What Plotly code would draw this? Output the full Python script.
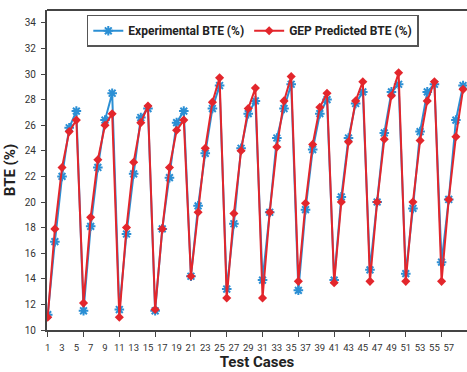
import plotly.graph_objects as go

cases = list(range(1, 60))
experimental = [11.2, 16.9, 22.0, 25.8, 27.1, 11.5, 18.1, 22.7, 26.4, 28.5,
                11.6, 17.5, 22.2, 26.6, 27.3, 11.5, 17.9, 21.9, 26.2, 27.1,
                14.2, 19.7, 23.8, 27.3, 29.1, 13.2, 18.3, 24.2, 26.9, 27.9,
                13.9, 19.2, 25.0, 27.3, 29.2, 13.1, 19.4, 24.1, 26.9, 28.0,
                13.9, 20.4, 25.0, 27.7, 28.6, 14.7, 20.0, 25.4, 28.6, 29.2,
                14.4, 19.5, 25.5, 28.6, 29.2, 15.3, 20.2, 26.4, 29.1]
predicted = [11.0, 17.9, 22.7, 25.5, 26.4, 12.1, 18.8, 23.3, 26.0, 26.9,
             11.0, 18.0, 23.1, 26.2, 27.5, 11.6, 17.9, 22.7, 25.6, 26.4,
             14.2, 19.2, 24.2, 27.8, 29.7, 12.5, 19.1, 24.0, 27.3, 28.9,
             12.5, 19.2, 24.3, 27.9, 29.8, 13.8, 19.9, 24.5, 27.4, 28.5,
             13.7, 20.0, 24.7, 27.9, 29.4, 13.8, 20.0, 24.9, 28.3, 30.1,
             13.8, 20.0, 24.8, 27.9, 29.4, 13.8, 20.2, 25.1, 28.8]
x_tick_labels = list(range(1, 60, 2))
x_tick_marks = list(range(1, 60, 5))
y_ticks = list(range(10, 35, 2))

FONT = "Roboto, sans-serif"

fig = go.Figure()
fig.add_trace(go.Scatter(
    x=cases, y=experimental, mode="lines+markers",
    name="<b>Experimental BTE (%)</b>",
    line=dict(color="#2b8fd4", width=2),
    marker=dict(symbol="asterisk-open", size=8, line=dict(color="#2b8fd4", width=2)),
))
fig.add_trace(go.Scatter(
    x=cases, y=predicted, mode="lines+markers",
    name="<b>GEP Predicted BTE (%)</b>",
    line=dict(color="#e3262c", width=2),
    marker=dict(symbol="diamond", size=7, color="#e3262c"),
))

fig.update_layout(
    width=467, height=372,
    margin=dict(l=47, r=0, t=10, b=42),
    paper_bgcolor="white", plot_bgcolor="white",
    font=dict(family=FONT, color="#333333", size=10),
    legend=dict(
        orientation="h", x=0.49, y=0.985, xanchor="center", yanchor="top",
        bordercolor="#555555", borderwidth=1.5, bgcolor="white",
        font=dict(family=FONT, size=12, color="#222222"),
        itemwidth=30, tracegroupgap=0,
    ),
    showlegend=True,
    shapes=[dict(type="line", xref="paper", yref="paper", x0=0, x1=1, y0=1, y1=1,
                 line=dict(color="#444444", width=2))],
)
fig.update_xaxes(
    range=[0.9, 59.55], showgrid=False, zeroline=False,
    showline=True, linecolor="#444444", linewidth=2,
    tickmode="array", tickvals=x_tick_labels, ticktext=[str(v) for v in x_tick_labels],
    ticks="", tickangle=0, tickfont=dict(size=9.5, color="#333333"),
    ticklabelstandoff=8,
    minor=dict(tickmode="array", tickvals=x_tick_marks, ticks="outside", ticklen=5,
               tickcolor="#444444", tickwidth=1),
    title=dict(text="<b>Test Cases</b>", font=dict(size=15, color="#222222"), standoff=2),
)
fig.update_yaxes(
    range=[10, 35], showgrid=False, zeroline=False,
    showline=True, linecolor="#444444", linewidth=2,
    tickmode="array", tickvals=y_ticks, ticks="outside", ticklen=4,
    tickcolor="#444444", tickfont=dict(size=10, color="#333333"),
    ticklabelstandoff=3,
    title=dict(text="<b>BTE (%)</b>", font=dict(size=15, color="#222222"), standoff=6),
)

fig.write_html("out.html")
